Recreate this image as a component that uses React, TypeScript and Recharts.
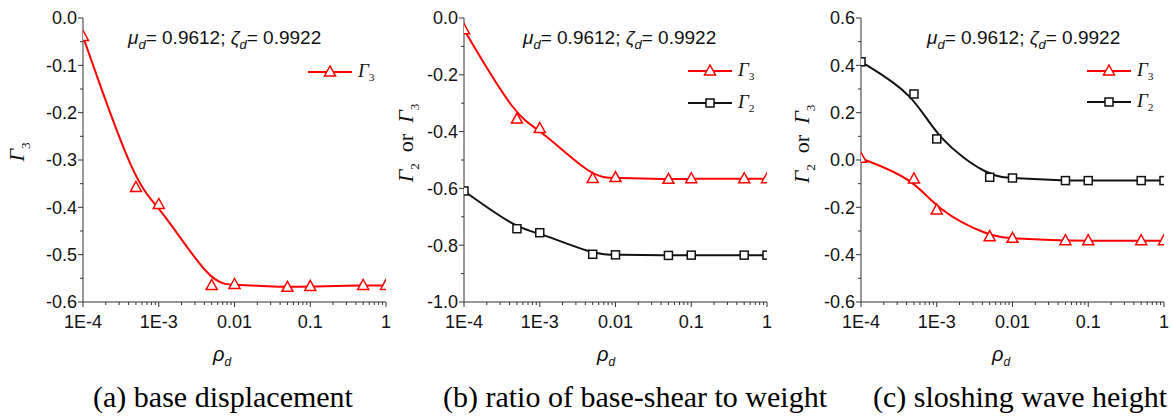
import React from 'react';
import { LineChart, Line, XAxis, YAxis } from 'recharts';

// rho_d values (log axis)
const rho = [1e-4, 5e-4, 1e-3, 5e-3, 0.01, 0.05, 0.1, 0.5, 1];

// (a) base displacement
const baseDispG3 = [-0.039, -0.358, -0.394, -0.565, -0.563, -0.569, -0.567, -0.565, -0.565];
// (b) ratio of base-shear to weight
const shearG3 = [-0.041, -0.356, -0.389, -0.565, -0.562, -0.568, -0.566, -0.566, -0.566];
const shearG2 = [-0.609, -0.742, -0.756, -0.832, -0.834, -0.836, -0.835, -0.835, -0.835];
// (c) sloshing wave height
const waveG3 = [0.007, -0.08, -0.211, -0.324, -0.331, -0.341, -0.341, -0.341, -0.341];
const waveG2 = [0.415, 0.279, 0.089, -0.073, -0.076, -0.087, -0.087, -0.087, -0.087];

const xMajor = [1e-4, 1e-3, 0.01, 0.1, 1];
const xMajorLabels = ['1E-4', '1E-3', '0.01', '0.1', '1'];
const xMinor = [
  2e-4, 3e-4, 4e-4, 5e-4, 6e-4, 7e-4, 8e-4, 9e-4,
  2e-3, 3e-3, 4e-3, 5e-3, 6e-3, 7e-3, 8e-3, 9e-3,
  0.02, 0.03, 0.04, 0.05, 0.06, 0.07, 0.08, 0.09,
  0.2, 0.3, 0.4, 0.5, 0.6, 0.7, 0.8, 0.9,
];

const yTicksA = [-0.6, -0.55, -0.5, -0.45, -0.4, -0.35, -0.3, -0.25, -0.2, -0.15, -0.1, -0.05, 0];
const yLabelsA = [-0.6, -0.5, -0.4, -0.3, -0.2, -0.1, 0];
const yTicksB = [-1, -0.9, -0.8, -0.7, -0.6, -0.5, -0.4, -0.3, -0.2, -0.1, 0];
const yLabelsB = [-1, -0.8, -0.6, -0.4, -0.2, 0];
const yTicksC = [-0.6, -0.5, -0.4, -0.3, -0.2, -0.1, 0, 0.1, 0.2, 0.3, 0.4, 0.5, 0.6];
const yLabelsC = [-0.6, -0.4, -0.2, 0, 0.2, 0.4, 0.6];

const RED = '#ff0000';
const BLACK = '#111111';
const AXIS = '#333333';
const SANS = 'Arial, "Liberation Sans", sans-serif';
const SERIF = '"Times New Roman", "Liberation Serif", serif';

const rows = rho.map((x, i) => ({
  x,
  a3: baseDispG3[i],
  b3: shearG3[i],
  b2: shearG2[i],
  c3: waveG3[i],
  c2: waveG2[i],
}));

const near = (arr: number[], v: number) => arr.findIndex((a) => Math.abs(a - v) < 1e-9);

const XTick = (props: any) => {
  const { x, y, payload } = props;
  const idx = near(xMajor, payload.value);
  const len = idx >= 0 ? 5 : 3;
  return (
    <g>
      <line x1={x} x2={x} y1={y} y2={y + len} stroke={AXIS} strokeWidth={1} />
      {idx >= 0 && (
        <text x={x} y={y + 26} textAnchor="middle" fontFamily={SANS} fontSize={18} fill="#111">
          {xMajorLabels[idx]}
        </text>
      )}
    </g>
  );
};

const makeYTick = (labels: number[]) => (props: any) => {
  const { x, y, payload } = props;
  const major = near(labels, payload.value) >= 0;
  const len = major ? 5 : 3;
  return (
    <g>
      <line x1={x - len} x2={x} y1={y} y2={y} stroke={AXIS} strokeWidth={1} />
      {major && (
        <text x={x - 6} y={y} dy="0.35em" textAnchor="end" fontFamily={SANS} fontSize={18} fill="#111">
          {payload.value.toFixed(1)}
        </text>
      )}
    </g>
  );
};

const Tri = (props: any) => {
  const { cx, cy } = props;
  if (cx == null || cy == null) return null;
  return (
    <polygon
      points={`${cx},${cy - 6} ${cx - 5.5},${cy + 4} ${cx + 5.5},${cy + 4}`}
      fill="#fff"
      stroke={RED}
      strokeWidth={1.5}
    />
  );
};

const Sq = (props: any) => {
  const { cx, cy } = props;
  if (cx == null || cy == null) return null;
  return <rect x={cx - 4} y={cy - 4} width={8} height={8} fill="#fff" stroke={BLACK} strokeWidth={1.5} />;
};

type Series = { key: string; color: string; shape: 'tri' | 'sq' };

type PanelProps = {
  left: number;
  width: number;
  yWidth: number;
  right: number;
  yDomain: [number, number];
  yTicks: number[];
  yLabels: number[];
  series: Series[];
};

const Panel = ({ left, width, yWidth, right, yDomain, yTicks, yLabels, series }: PanelProps) => (
  <div style={{ position: 'absolute', left, top: 0 }}>
    <LineChart width={width} height={340} data={rows} margin={{ top: 18, right, left: 0, bottom: 0 }}>
      <XAxis
        dataKey="x"
        type="number"
        scale="log"
        domain={[1e-4, 1]}
        allowDataOverflow
        ticks={[...xMajor, ...xMinor]}
        interval={0}
        tickSize={0}
        tickMargin={0}
        tickLine={false}
        tick={XTick}
        height={38}
        stroke={AXIS}
      />
      <XAxis
        xAxisId="top"
        orientation="top"
        dataKey="x"
        type="number"
        scale="log"
        domain={[1e-4, 1]}
        allowDataOverflow
        height={0}
        tick={false}
        tickLine={false}
        stroke={AXIS}
      />
      <YAxis
        type="number"
        domain={yDomain}
        allowDataOverflow
        ticks={yTicks}
        interval={0}
        tickSize={0}
        tickMargin={0}
        tickLine={false}
        tick={makeYTick(yLabels)}
        width={yWidth}
        stroke={AXIS}
      />
      <YAxis
        yAxisId="right"
        orientation="right"
        type="number"
        domain={yDomain}
        allowDataOverflow
        width={0}
        tick={false}
        tickLine={false}
        stroke={AXIS}
      />
      {series.map((s) => (
        <Line
          key={s.key}
          dataKey={s.key}
          type="basis"
          stroke={s.color}
          strokeWidth={2}
          dot={s.shape === 'tri' ? Tri : Sq}
          activeDot={false}
          isAnimationActive={false}
        />
      ))}
    </LineChart>
  </div>
);

const Gamma = ({ sub, size = 18 }: { sub: string; size?: number }) => (
  <span style={{ fontFamily: SERIF }}>
    <i style={{ fontSize: size }}>Γ</i>
    <sub style={{ fontSize: size * 0.6, verticalAlign: 'sub' }}>{sub}</sub>
  </span>
);

const Annotation = ({ left }: { left: number }) => (
  <div style={{ position: 'absolute', left, top: 27, fontFamily: SANS, fontSize: 19, color: '#111', whiteSpace: 'nowrap' }}>
    <i>μ</i>
    <sub style={{ fontSize: 13 }}>
      <i>d</i>
    </sub>
    = 0.9612; <i>ζ</i>
    <sub style={{ fontSize: 13 }}>
      <i>d</i>
    </sub>
    = 0.9922
  </div>
);

const LegendRow = ({ left, top, color, shape, sub }: { left: number; top: number; color: string; shape: 'tri' | 'sq'; sub: string }) => (
  <div style={{ position: 'absolute', left, top: top - 12, height: 24, display: 'flex', alignItems: 'center', whiteSpace: 'nowrap' }}>
    <svg width={44} height={24}>
      <line x1={0} x2={44} y1={12} y2={12} stroke={color} strokeWidth={2} />
      {shape === 'tri' ? <Tri cx={22} cy={12} /> : <Sq cx={22} cy={12} />}
    </svg>
    <span style={{ marginLeft: 6, color: '#111' }}>
      <Gamma sub={sub} size={19} />
    </span>
  </div>
);

const YLabel = ({ cx, cy, children }: { cx: number; cy: number; children: React.ReactNode }) => (
  <div
    style={{
      position: 'absolute',
      left: cx,
      top: cy,
      transform: 'translate(-50%, -50%) rotate(-90deg)',
      whiteSpace: 'nowrap',
      fontFamily: SERIF,
      fontSize: 22,
      color: '#111',
    }}
  >
    {children}
  </div>
);

const XLabel = ({ cx }: { cx: number }) => (
  <div style={{ position: 'absolute', left: cx, top: 356, transform: 'translate(-50%, -50%)', fontFamily: SANS, fontSize: 20, color: '#111', whiteSpace: 'nowrap' }}>
    <i>ρ</i>
    <sub style={{ fontSize: 12 }}>
      <i>d</i>
    </sub>
  </div>
);

const Caption = ({ cx, text }: { cx: number; text: string }) => (
  <div style={{ position: 'absolute', left: cx, top: 382, lineHeight: 1, transform: 'translateX(-50%)', fontFamily: SERIF, fontSize: 30, color: '#000', whiteSpace: 'nowrap' }}>
    {text}
  </div>
);

export default function App() {
  return (
    <div style={{ position: 'absolute', left: 0, top: 0, width: 1172, height: 418, background: '#fff', overflow: 'hidden' }}>
      <Panel
        left={0}
        width={400}
        yWidth={83}
        right={14}
        yDomain={[-0.6, 0]}
        yTicks={yTicksA}
        yLabels={yLabelsA}
        series={[{ key: 'a3', color: RED, shape: 'tri' }]}
      />
      <Panel
        left={380}
        width={400}
        yWidth={84}
        right={13}
        yDomain={[-1, 0]}
        yTicks={yTicksB}
        yLabels={yLabelsB}
        series={[
          { key: 'b3', color: RED, shape: 'tri' },
          { key: 'b2', color: BLACK, shape: 'sq' },
        ]}
      />
      <Panel
        left={770}
        width={402}
        yWidth={91}
        right={8}
        yDomain={[-0.6, 0.6]}
        yTicks={yTicksC}
        yLabels={yLabelsC}
        series={[
          { key: 'c3', color: RED, shape: 'tri' },
          { key: 'c2', color: BLACK, shape: 'sq' },
        ]}
      />

      <Annotation left={128} />
      <Annotation left={523} />
      <Annotation left={927} />

      <LegendRow left={308} top={72} color={RED} shape="tri" sub="3" />
      <LegendRow left={688} top={71} color={RED} shape="tri" sub="3" />
      <LegendRow left={688} top={103} color={BLACK} shape="sq" sub="2" />
      <LegendRow left={1087} top={71} color={RED} shape="tri" sub="3" />
      <LegendRow left={1087} top={102} color={BLACK} shape="sq" sub="2" />

      <YLabel cx={19} cy={152}>
        <Gamma sub="3" size={22} />
      </YLabel>
      <YLabel cx={408} cy={143}>
        <Gamma sub="2" size={22} />
        {'\u00a0\u00a0or\u00a0\u00a0'}
        <Gamma sub="3" size={22} />
      </YLabel>
      <YLabel cx={804} cy={144}>
        <Gamma sub="2" size={22} />
        {'\u00a0\u00a0or\u00a0\u00a0'}
        <Gamma sub="3" size={22} />
      </YLabel>

      <XLabel cx={222} />
      <XLabel cx={606} />
      <XLabel cx={1001} />

      <Caption cx={223} text="(a) base displacement" />
      <Caption cx={635} text="(b) ratio of base-shear to weight" />
      <Caption cx={1020} text="(c) sloshing wave height" />
    </div>
  );
}
